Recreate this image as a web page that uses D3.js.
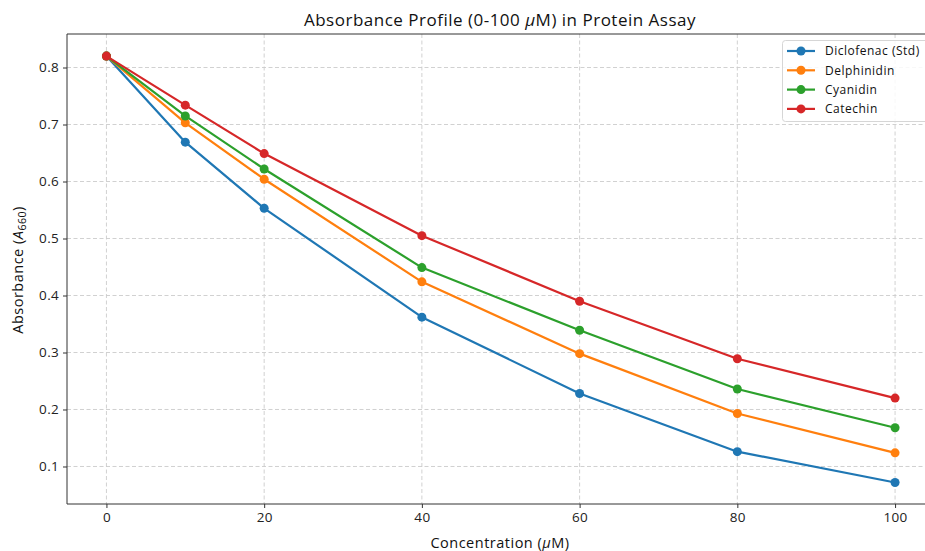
<!DOCTYPE html>
<html>
<head>
<meta charset="utf-8">
<script src="https://cdn.jsdelivr.net/npm/d3@7"></script>
<style>
  html, body { margin: 0; padding: 0; background: #fff; }
  svg { display: block; font-family: "Open Sans", "Noto Sans", sans-serif; }
</style>
</head>
<body>
<svg id="chart" width="925" height="551"></svg>
<script>
const concentrations = [0, 10, 20, 40, 60, 80, 100];
const seriesNames = ["Diclofenac (Std)", "Delphinidin", "Cyanidin", "Catechin"];
const diclofenac  = [0.820, 0.669, 0.553, 0.362, 0.228, 0.126, 0.072];
const delphinidin = [0.820, 0.703, 0.604, 0.424, 0.298, 0.193, 0.124];
const cyanidin    = [0.820, 0.715, 0.622, 0.449, 0.339, 0.236, 0.168];
const catechin    = [0.820, 0.734, 0.649, 0.505, 0.390, 0.289, 0.220];
const colors = ["#1f77b4", "#ff7f0e", "#2ca02c", "#d62728"];
const xTicks = [0, 20, 40, 60, 80, 100];
const yTicks = [0.1, 0.2, 0.3, 0.4, 0.5, 0.6, 0.7, 0.8];

const allSeries = [diclofenac, delphinidin, cyanidin, catechin];

const svg = d3.select("#chart");
const pL = 67, pR = 934.5, pT = 34, pB = 504;

const x = d3.scaleLinear().domain([-5, 105]).range([pL, pR]);
const y = d3.scaleLinear().domain([0.0342, 0.8588]).range([pB, pT]);

// grid
const grid = svg.append("g");
grid.selectAll("line.gx").data(xTicks).join("line")
  .attr("x1", d => x(d)).attr("x2", d => x(d))
  .attr("y1", pT).attr("y2", pB)
  .attr("stroke", "#cccccc").attr("stroke-width", 0.9).attr("stroke-dasharray", "4,2.5");
grid.selectAll("line.gy").data(yTicks).join("line")
  .attr("x1", pL).attr("x2", pR)
  .attr("y1", d => y(d)).attr("y2", d => y(d))
  .attr("stroke", "#cccccc").attr("stroke-width", 0.9).attr("stroke-dasharray", "4,2.5");

// axes
const xAxis = d3.axisBottom(x).tickValues(xTicks).tickSize(4).tickPadding(4).tickFormat(d3.format("d"));
const yAxis = d3.axisLeft(y).tickValues(yTicks).tickSize(4).tickPadding(4).tickFormat(d3.format(".1f"));

const gx = svg.append("g").attr("transform", `translate(0,${pB})`).call(xAxis);
const gy = svg.append("g").attr("transform", `translate(${pL},0)`).call(yAxis);
[gx, gy].forEach(g => {
  g.select(".domain").remove();
  g.selectAll(".tick line").attr("stroke", "#333");
  g.selectAll(".tick text").attr("fill", "#222").style("font-size", "13.5px")
    .style("letter-spacing", "0.3px").style("font-family", "'Open Sans', sans-serif");
});

// spines
svg.append("line").attr("x1", pL).attr("x2", pL).attr("y1", pT).attr("y2", pB).attr("stroke", "#333").attr("stroke-width", 1);
svg.append("line").attr("x1", pL).attr("x2", pR).attr("y1", pB).attr("y2", pB).attr("stroke", "#333").attr("stroke-width", 1);
svg.append("line").attr("x1", pL).attr("x2", pR).attr("y1", pT).attr("y2", pT).attr("stroke", "#333").attr("stroke-width", 1);

// lines
const line = d3.line().x((d, i) => x(concentrations[i])).y(d => y(d));
allSeries.forEach((s, k) => {
  svg.append("path").datum(s).attr("d", line)
    .attr("fill", "none").attr("stroke", colors[k]).attr("stroke-width", 2.2)
    .attr("stroke-linejoin", "round");
  svg.append("g").selectAll("circle").data(s).join("circle")
    .attr("cx", (d, i) => x(concentrations[i])).attr("cy", d => y(d))
    .attr("r", 4.5).attr("fill", colors[k]);
});

// title
const title = svg.append("text").attr("x", 500).attr("y", 26).attr("text-anchor", "middle")
  .attr("fill", "#111").style("font-size", "17px").style("letter-spacing", "0.5px");
title.append("tspan").text("Absorbance Profile (0-100 ");
title.append("tspan").style("font-style", "italic").text("μ");
title.append("tspan").text("M) in Protein Assay");

// x label
const xl = svg.append("text").attr("x", 500).attr("y", 548).attr("text-anchor", "middle")
  .attr("fill", "#111").style("font-size", "14.5px").style("letter-spacing", "0.5px");
xl.append("tspan").text("Concentration (");
xl.append("tspan").style("font-style", "italic").text("μ");
xl.append("tspan").text("M)");

// y label
const yl = svg.append("text").attr("transform", "translate(23,270) rotate(-90)").attr("text-anchor", "middle")
  .attr("fill", "#111").style("font-size", "14.5px").style("letter-spacing", "0.5px");
yl.append("tspan").text("Absorbance (");
yl.append("tspan").style("font-style", "italic").text("A");
yl.append("tspan").attr("dy", 3).style("font-size", "10.5px").text("660");
yl.append("tspan").attr("dy", -3).text(")");

// legend
const lg = svg.append("g").attr("transform", "translate(782,40)");
lg.append("rect").attr("x", 0.5).attr("y", 0.5).attr("width", 160).attr("height", 81).attr("rx", 3)
  .attr("fill", "#fff").attr("fill-opacity", 0.85).attr("stroke", "#d6d6d6");
seriesNames.forEach((name, k) => {
  const yy = 11 + k * 19.3;
  lg.append("line").attr("x1", 5).attr("x2", 33).attr("y1", yy).attr("y2", yy)
    .attr("stroke", colors[k]).attr("stroke-width", 2.2);
  lg.append("circle").attr("cx", 19).attr("cy", yy).attr("r", 4.5).attr("fill", colors[k]);
  lg.append("text").attr("x", 43).attr("y", yy + 4.3).attr("fill", "#111")
    .style("font-size", "12px").style("letter-spacing", "0.5px").text(name);
});
</script>
</body>
</html>
